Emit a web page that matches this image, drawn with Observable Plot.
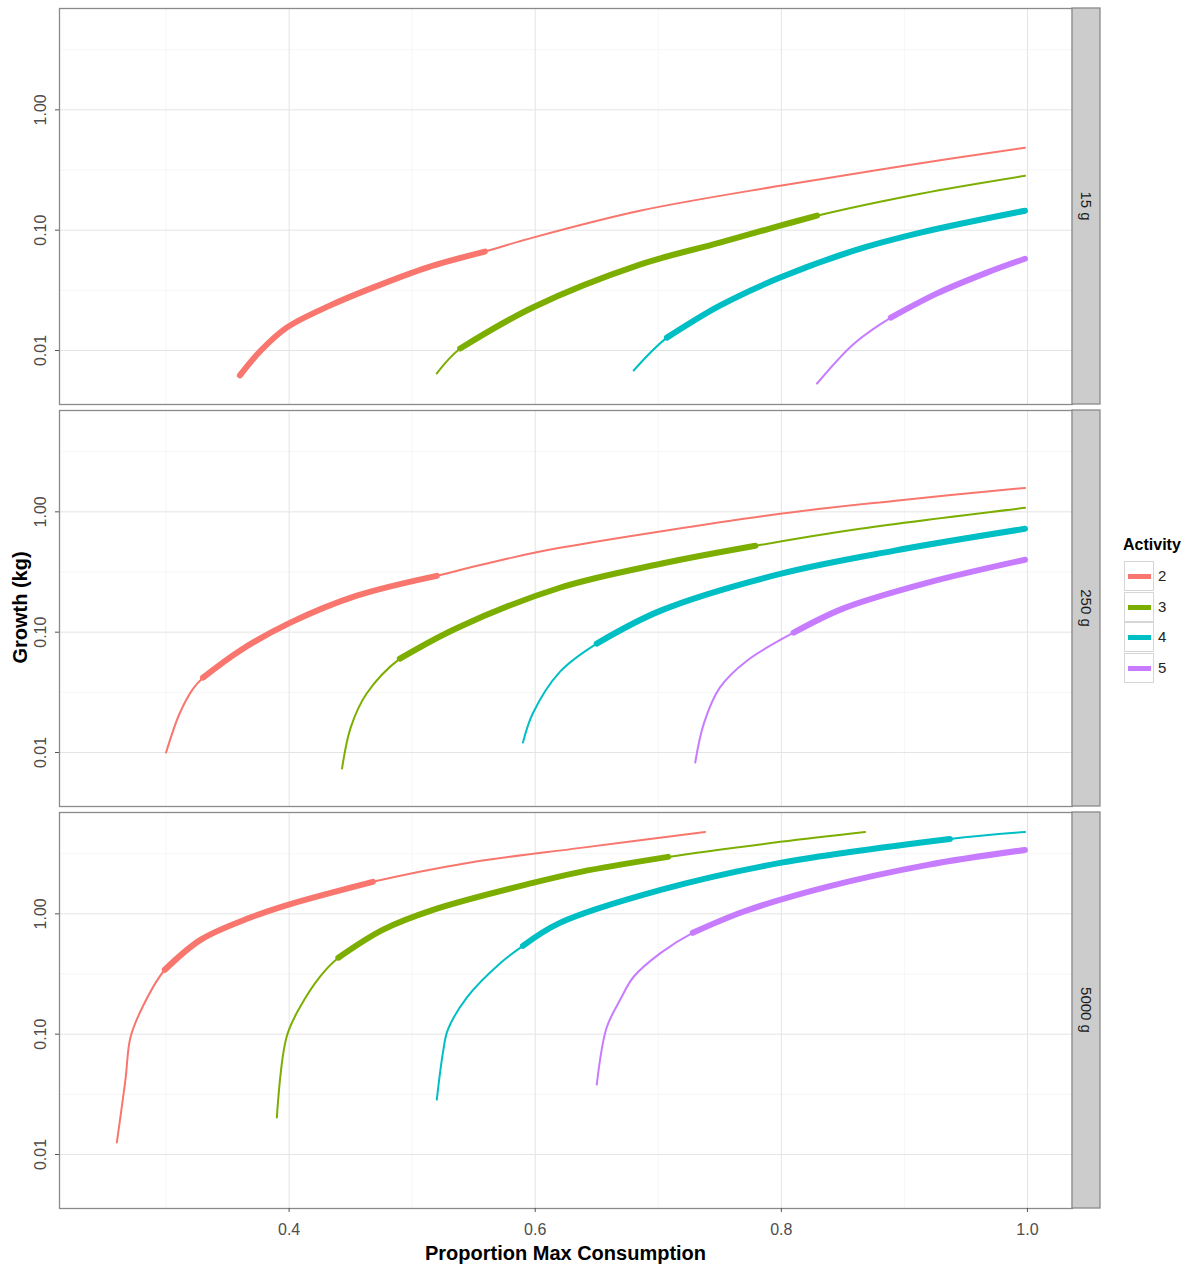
<!DOCTYPE html>
<html><head><meta charset="utf-8">
<script src="https://cdn.jsdelivr.net/npm/d3@7"></script>
<script src="https://cdn.jsdelivr.net/npm/@observablehq/plot@0.6"></script>
<style>
body{margin:0;background:#fff;font-family:"Liberation Sans",Arial,sans-serif;}
#wrap{position:relative;width:1189px;height:1266px;overflow:hidden;}
.abs{position:absolute;white-space:nowrap;}
</style></head><body><div id="wrap"></div>
<script>
// ---- data ----
const sizes = ["15 g", "250 g", "5000 g"];
const activities = ["2", "3", "4", "5"];
const colors = ["#F8766D", "#7CAE00", "#00BFC4", "#C77CFF"];
const xTicks = [0.4, 0.6, 0.8, 1.0];
const xMinor = [0.3, 0.5, 0.7, 0.9];
const yTicks = [0.01, 0.1, 1];
const yTickLabels = ["0.01", "0.10", "1.00"];
const yMinor = [0.0316, 0.316, 3.16];

// one entry per curve
const curveFacet = [0,0,0,0, 1,1,1,1, 2,2,2,2];
const curveAct   = [0,1,2,3, 0,1,2,3, 0,1,2,3];
const curveX = [
  [0.360,0.377,0.398,0.433,0.468,0.512,0.559,0.598,0.685,0.799,0.900,0.998],
  [0.520,0.539,0.598,0.685,0.750,0.799,0.829,0.913,0.998],
  [0.680,0.707,0.750,0.799,0.859,0.913,0.998],
  [0.829,0.859,0.889,0.927,0.967,0.998],
  [0.300,0.311,0.322,0.330,0.360,0.401,0.455,0.520,0.577,0.620,0.799,0.891,0.998],
  [0.443,0.450,0.463,0.490,0.537,0.620,0.702,0.779,0.864,0.998],
  [0.590,0.598,0.620,0.650,0.702,0.799,0.891,0.998],
  [0.730,0.737,0.750,0.772,0.810,0.850,0.919,0.998],
  [0.260,0.267,0.271,0.281,0.299,0.328,0.368,0.399,0.468,0.545,0.637,0.738],
  [0.390,0.398,0.409,0.425,0.440,0.476,0.517,0.598,0.637,0.708,0.799,0.868],
  [0.520,0.525,0.529,0.545,0.572,0.590,0.620,0.702,0.799,0.937,0.998],
  [0.650,0.658,0.669,0.680,0.702,0.728,0.769,0.837,0.919,0.998]
];
const curveY = [
  [0.00621,0.0100,0.0155,0.0236,0.0333,0.0489,0.0664,0.0867,0.145,0.234,0.343,0.484],
  [0.00646,0.0104,0.0228,0.0517,0.0787,0.109,0.132,0.201,0.283],
  [0.00682,0.0128,0.0236,0.0404,0.0676,0.0953,0.145],
  [0.00532,0.0114,0.0188,0.0300,0.0444,0.0579],
  [0.0100,0.0211,0.0340,0.0419,0.0702,0.120,0.201,0.294,0.407,0.502,0.962,1.233,1.581],
  [0.00736,0.0161,0.0309,0.0603,0.109,0.234,0.370,0.522,0.723,1.079],
  [0.0121,0.0211,0.0468,0.0804,0.151,0.305,0.474,0.723],
  [0.00826,0.0174,0.0346,0.0579,0.0991,0.157,0.258,0.400],
  [0.0126,0.0419,0.0935,0.169,0.343,0.608,0.927,1.189,1.845,2.649,3.532,4.786],
  [0.0203,0.0953,0.169,0.300,0.432,0.736,1.079,1.807,2.234,2.972,3.963,4.786],
  [0.0286,0.0702,0.109,0.205,0.392,0.542,0.841,1.581,2.649,4.188,4.786],
  [0.0381,0.113,0.193,0.300,0.474,0.695,1.040,1.675,2.553,3.396]
];
const thickFrom = [0.360,0.539,0.707,0.889, 0.330,0.490,0.650,0.810, 0.299,0.440,0.590,0.728];
const thickTo   = [0.559,0.829,0.998,0.998, 0.520,0.779,0.998,0.998, 0.468,0.708,0.937,0.998];

// ---- build table ----
const rows = [];
curveX.forEach((xs, i) => xs.forEach((x, j) => rows.push({
  id: i, size: sizes[curveFacet[i]], act: activities[curveAct[i]], x, y: curveY[i][j],
  thick: x >= thickFrom[i] - 1e-9 && x <= thickTo[i] + 1e-9
})));

const W = 1189, H = 1266, mL = 59, mR = 117, mT = 7, mB = 58;
const font = '"Liberation Sans", Arial, sans-serif';

const plot = Plot.plot({
  width: W, height: H,
  marginLeft: mL, marginRight: mR, marginTop: mT, marginBottom: mB,
  style: {fontFamily: font, background: "#fff", overflow: "visible"},
  x: {domain: [0.2134, 1.0366]},
  y: {type: "log", domain: [0.00356, 6.95]},
  fy: {domain: sizes, paddingInner: 0.015, paddingOuter: 0, axis: null, label: null},
  color: {domain: activities, range: colors},
  marks: [
    Plot.gridX(xMinor, {stroke: "#f4f4f4", strokeOpacity: 1, strokeWidth: 0.8}),
    Plot.gridY(yMinor, {stroke: "#f4f4f4", strokeOpacity: 1, strokeWidth: 0.8}),
    Plot.gridX(xTicks, {stroke: "#e4e4e4", strokeOpacity: 1, strokeWidth: 1}),
    Plot.gridY(yTicks, {stroke: "#e4e4e4", strokeOpacity: 1, strokeWidth: 1}),
    Plot.line(rows, {fy: "size", x: "x", y: "y", z: "id", stroke: "act", strokeWidth: 2, curve: "catmull-rom"}),
    Plot.line(rows.filter(d => d.thick), {fy: "size", x: "x", y: "y", z: "id", stroke: "act", strokeWidth: 6, curve: "catmull-rom"}),
    Plot.frame({stroke: "#8a8a8a", strokeWidth: 1.3}),
    Plot.axisX(xTicks, {tickFormat: d => d.toFixed(1), tickSize: 4, tickPadding: 11, fontSize: 16, fill: "#4d4d4d", stroke: "#555", label: null}),
    Plot.axisY(yTicks, {tickFormat: () => "", tickSize: 4, stroke: "#555", label: null}),
    Plot.text(yTicks, {y: d => d, text: (d, i) => yTickLabels[i], frameAnchor: "left", dx: -19, rotate: -90,
      textAnchor: "middle", lineAnchor: "middle", fontSize: 16, fill: "#4d4d4d"})
  ]
});

const wrap = document.getElementById("wrap");
wrap.appendChild(plot);

// strips via fy scale
const fy = plot.scale("fy");
const svg = d3.select(plot);
const sx = W - mR;
sizes.forEach(s => {
  const y0 = fy.apply(s), bw = fy.bandwidth;
  svg.append("rect").attr("x", sx).attr("y", y0).attr("width", 28).attr("height", bw)
    .attr("fill", "#cccccc").attr("stroke", "#8a8a8a").attr("stroke-width", 1.3);
  svg.append("text").attr("transform", `translate(${sx + 14},${y0 + bw / 2}) rotate(90)`)
    .attr("text-anchor", "middle").attr("dy", "0.35em").attr("font-size", 15)
    .attr("fill", "#1a1a1a").style("font-family", font).text(s);
});
// y axis title
svg.append("text").attr("transform", `translate(20,${(mT + H - mB) / 2}) rotate(-90)`)
  .attr("text-anchor", "middle").attr("dy", "0.35em").attr("font-size", 20).attr("font-weight", "bold")
  .attr("fill", "#000").style("font-family", font).text("Growth (kg)");
// x axis title
svg.append("text").attr("x", (mL + W - mR) / 2).attr("y", H - 6)
  .attr("text-anchor", "middle").attr("font-size", 20).attr("font-weight", "bold")
  .attr("fill", "#000").style("font-family", font).text("Proportion Max Consumption");

// legend
const lg = d3.select(wrap);
lg.append("div").attr("class", "abs").style("left", "1123px").style("top", "536px")
  .style("font-size", "16px").style("font-weight", "bold").text("Activity");
activities.forEach((a, i) => {
  const top = 561 + i * 30.7;
  lg.append("div").attr("class", "abs").style("left", "1124px").style("top", top + "px")
    .style("width", "30px").style("height", "30px").style("box-sizing", "border-box")
    .style("border", "1px solid #d6d6d6").style("background", "#fff")
    .append("div").style("position", "absolute").style("left", "3px").style("top", "12px")
    .style("width", "23px").style("height", "5px").style("background", colors[i]);
  lg.append("div").attr("class", "abs").style("left", "1158px").style("top", (top + 6) + "px")
    .style("font-size", "15px").style("color", "#222").text(a);
});
</script></body></html>
